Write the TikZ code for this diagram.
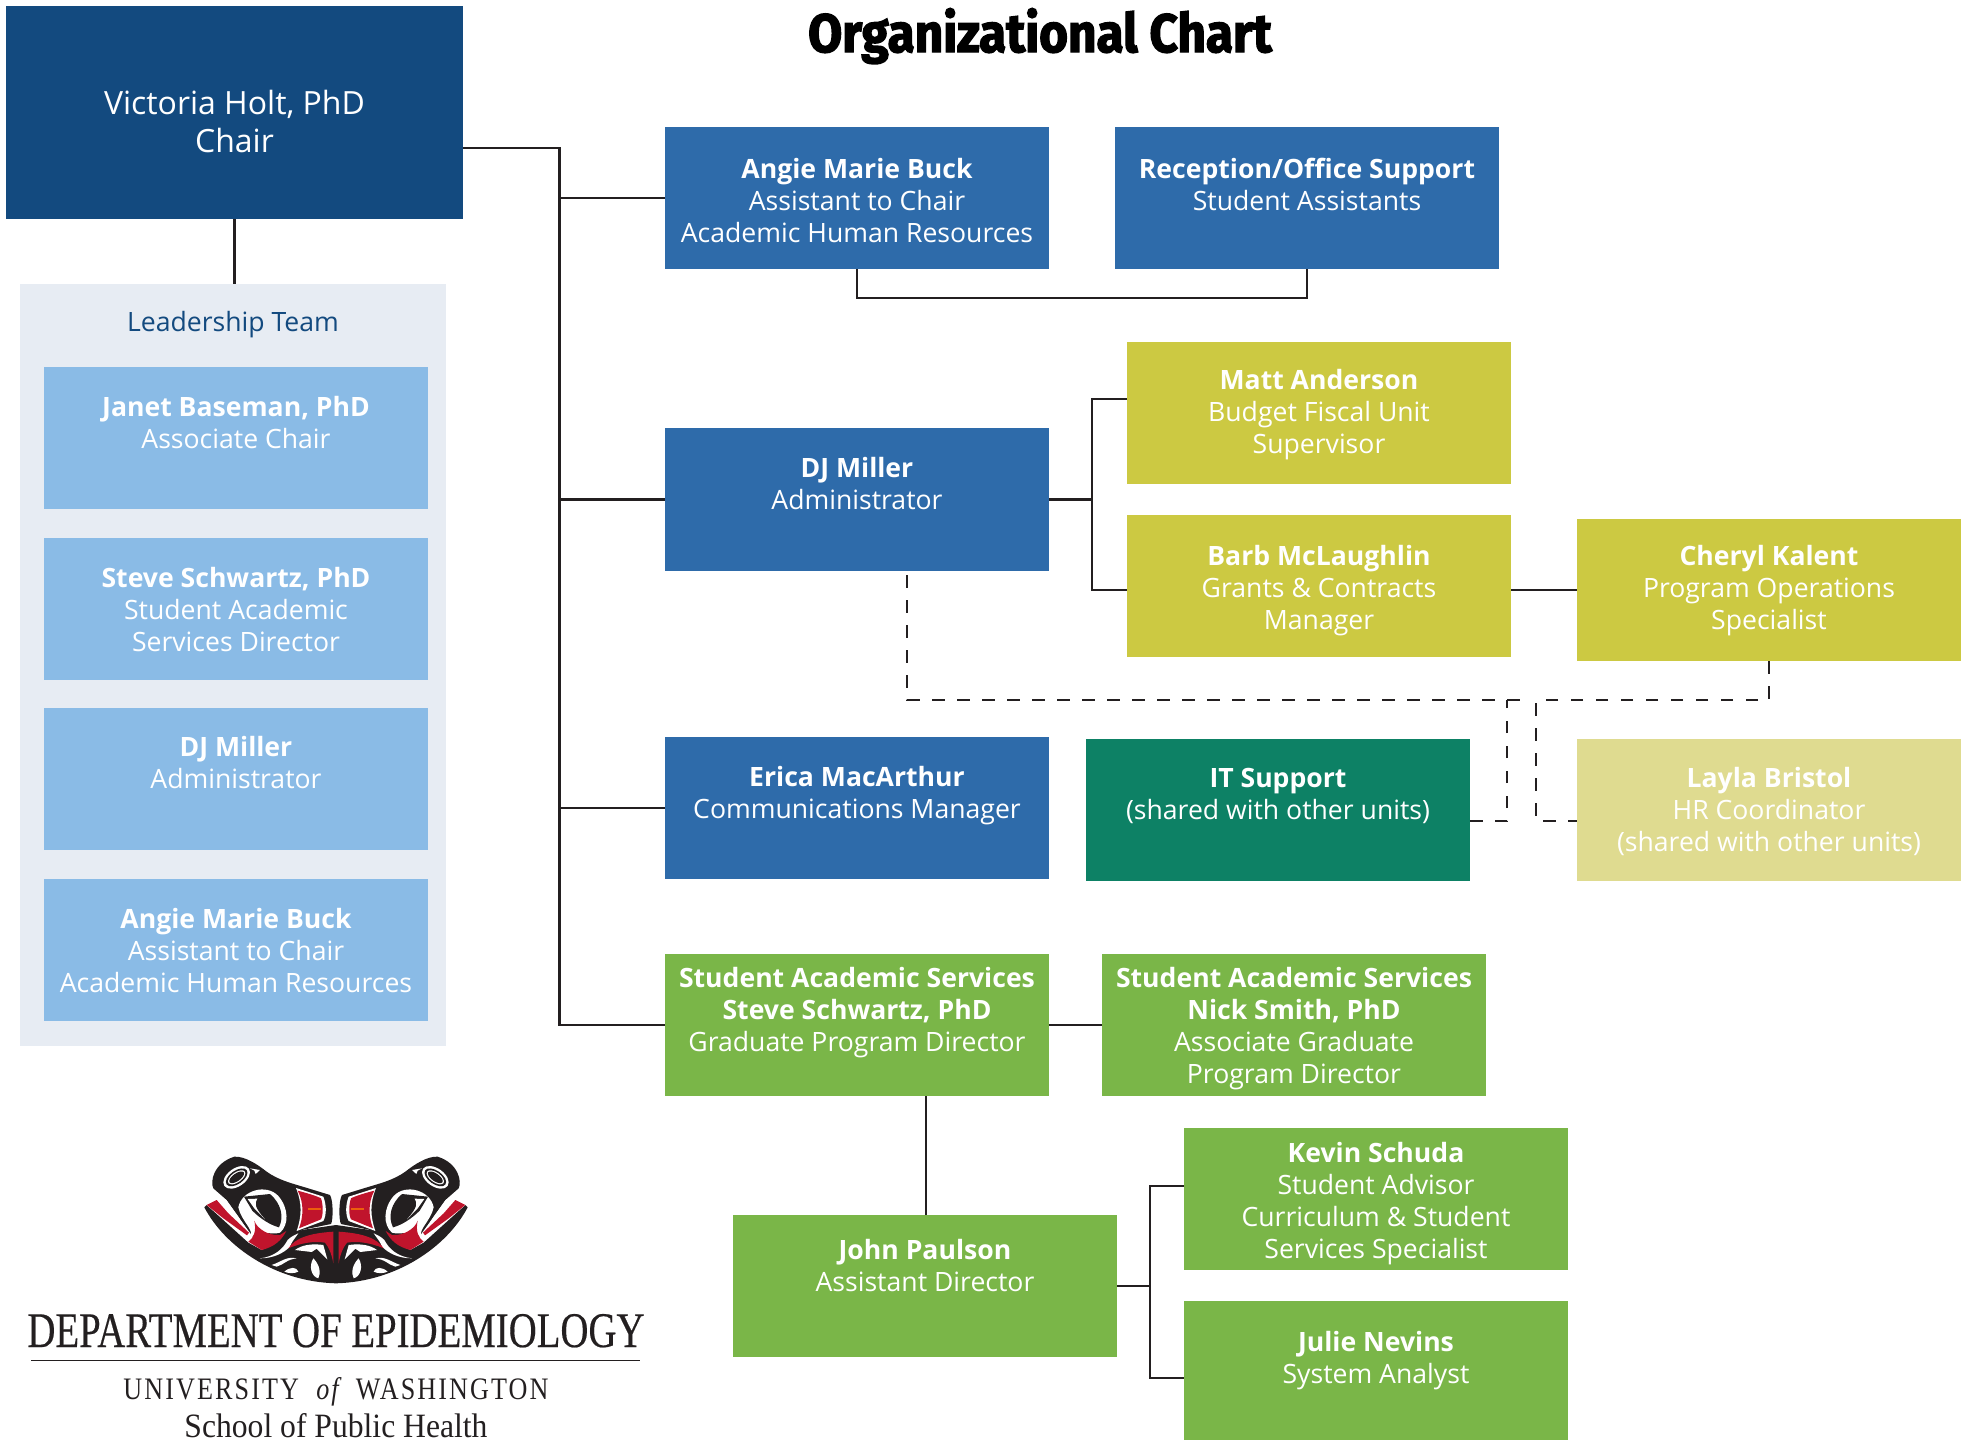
\documentclass[tikz,border=0pt]{standalone}
\usepackage{fontspec}
\setmainfont{Open Sans}
\newfontfamily\titlefont[FakeBold=2.6]{Fira Sans Bold}
\newfontfamily\logofont{Liberation Serif}
\newfontfamily\deptfont[FakeBold=0.4]{Liberation Serif}
\newfontfamily\uwfont[LetterSpace=8]{Liberation Serif}
\definecolor{navy}{HTML}{134A7F}
\definecolor{midblue}{HTML}{2E6BAA}
\definecolor{skyb}{HTML}{8ABBE6}
\definecolor{panelc}{HTML}{E7ECF3}
\definecolor{ochre}{HTML}{CCC942}
\definecolor{pale}{HTML}{DFDB90}
\definecolor{teal2}{HTML}{0D8165}
\definecolor{leaf}{HTML}{7AB648}
\definecolor{ink}{HTML}{231F20}
\definecolor{logored}{HTML}{C0142C}
\tikzset{
  boxnode/.style={inner sep=0pt,outer sep=0pt,text=white,anchor=center},
  link/.style={draw=ink,line width=2.8pt},
  dashlink/.style={draw=ink,line width=2.8pt,dash pattern=on 12.5pt off 12.5pt},
  wt/.style={fill=white,draw=none},
  bk/.style={fill=ink,draw=none},
  rd/.style={fill=logored,draw=none},
  plain/.style={inner sep=0pt,outer sep=0pt,anchor=base}
}
% name, colour, x0, y0, x1, y1, first baseline offset, text
\newcommand\bx[8]{%
  \pgfmathsetmacro\bw{#5-#3}\pgfmathsetmacro\bh{#6-#4}%
  \pgfmathsetmacro\bcx{(#3+#5)/2}\pgfmathsetmacro\bcy{(#4+#6)/2}%
  \node[boxnode,fill=#2] (#1) at (\bcx,\bcy) {\parbox[c][\bh pt][t]{\bw pt}{\centering\fontsize{26.6}{32}\selectfont\rule{0pt}{#7pt}#8}};%
}
\newcommand\halfbird{%
  % bowl
  \path[bk] (28,172) .. controls (90,290) and (240,395) .. (423,400) -- (423,225) -- (320,240) -- (270,270) -- (200,300) -- (160,278) -- (35,165) -- cycle;
  % head
  \path[bk] (118,20) .. controls (150,18) and (190,45) .. (215,65) .. controls (250,90) and (290,100) .. (330,112) -- (405,135) .. controls (415,150) and (415,210) .. (408,222) -- (320,240) .. controls (300,260) and (285,285) .. (250,300) -- (200,295) -- (170,255) -- (130,200) -- (95,150) -- (55,115) .. controls (45,95) and (55,40) .. (118,20) -- cycle;
  % white strip and left red
  \path[wt] (50,118) -- (95,152) -- (130,200) -- (170,262) -- (158,268) -- (35,165) -- (62,148) -- cycle;
  \path[rd] (35,165) -- (65,150) -- (100,190) -- (162,248) -- (156,256) -- (85,205) -- cycle;
  % notch
  \path[wt] (165,55) -- (195,60) -- (182,72) -- (178,62) -- cycle;
  % crown eye
  \path[wt,rotate around={35:(125,82)}] (125,82) ellipse (45 and 27);
  \path[bk,rotate around={35:(125,82)}] (125,82) ellipse (37 and 20);
  \path[wt,rotate around={35:(125,82)}] (125,82) ellipse (30 and 15);
  \path[bk,rotate around={35:(125,82)}] (125,82) ellipse (26 and 11.5);
  % eye socket
  \path[wt] (130,172) .. controls (140,120) and (215,100) .. (250,138) .. controls (282,175) and (282,225) .. (255,248) .. controls (235,255) and (190,240) .. (168,262) .. controls (175,235) and (140,215) .. (130,172) -- cycle;
  % lower red
  \path[rd] (178,212) .. controls (185,235) and (220,258) .. (255,255) -- (274,243) .. controls (260,270) and (240,290) .. (200,300) -- (160,275) .. controls (175,265) and (185,245) .. (178,212) -- cycle;
  % almond
  \path[bk] (147,140) -- (225,132) .. controls (258,160) and (268,200) .. (252,232) .. controls (225,225) and (195,205) .. (172,182) -- cycle;
  \path[wt] (158,147) -- (187,146) .. controls (178,160) and (178,172) .. (210,208) -- (178,175) -- cycle;
  % wing
  \path[wt] (303,114) -- (385,140) .. controls (395,165) and (395,195) .. (385,213) -- (305,243) .. controls (320,200) and (322,160) .. (303,114) -- cycle;
  \path[rd] (308,122) .. controls (340,130) and (370,140) .. (378,145) .. controls (385,165) and (385,195) .. (378,208) -- (312,235) .. controls (325,200) and (328,160) .. (308,122) -- cycle;
  \path[fill=orange!70!logored] (338,174) -- (378,174) -- (378,180) -- (338,180) -- cycle;
  % white rim and centre red
  \path[wt] (195,325) .. controls (240,320) and (265,295) .. (278,270) .. controls (290,258) and (300,255) .. (310,250) .. controls (300,265) and (290,275) .. (285,290) .. controls (265,310) and (235,325) .. (195,325) -- cycle;
  \path[rd] (280,295) .. controls (300,265) and (340,250) .. (415,245) -- (415,340) .. controls (410,310) and (400,290) .. (390,278) .. controls (355,272) and (315,280) .. (280,295) -- cycle;
  \path[wt] (300,300) .. controls (320,285) and (350,280) .. (385,285) -- (397,328) -- (365,296) -- (350,306) -- cycle;
  \path[wt] (355,325) .. controls (375,345) and (378,370) .. (370,385) .. controls (350,380) and (340,350) .. (355,325) -- cycle;
  \path[wt] (230,345) .. controls (260,335) and (275,318) .. (305,325) .. controls (275,328) and (265,345) .. (245,350) -- cycle;
  \path[wt] (268,365) .. controls (285,350) and (305,350) .. (310,365) .. controls (295,372) and (280,370) .. (268,365) -- cycle;
}
\begin{document}
\begin{tikzpicture}[x=1pt,y=-1pt]
\useasboundingbox (0,0) rectangle (1971,1440);
\node[plain] (title) at (1040,52) {\scalebox{0.915}[1]{\titlefont\fontsize{54}{60}\selectfont Organizational Chart}};
% panel
\node[boxnode,fill=panelc,minimum width=426pt,minimum height=762pt] (panel) at (233,665) {};
\node[plain,text=navy,font=\fontsize{26.6}{32}\selectfont] (ltitle) at (233,331) {Leadership Team};
\node[boxnode,fill=navy] (chair) at (234.5,112.5) {\parbox[c][213pt][t]{457pt}{\centering\fontsize{32}{38}\selectfont\rule{0pt}{108pt}Victoria Holt, PhD\\Chair}};
\bx{janet}{skyb}{44}{367}{428}{509}{49}{\textbf{Janet Baseman, PhD}\\Associate Chair}
\bx{steve}{skyb}{44}{538}{428}{680}{49}{\textbf{Steve Schwartz, PhD}\\Student Academic\\Services Director}
\bx{djb}{skyb}{44}{708}{428}{850}{48}{\textbf{DJ Miller}\\Administrator}
\bx{amb}{skyb}{44}{879}{428}{1021}{49}{\textbf{Angie Marie Buck}\\Assistant to Chair\\Academic Human Resources}
\bx{angie}{midblue}{665}{127}{1049}{269}{51}{\textbf{Angie Marie Buck}\\Assistant to Chair\\Academic Human Resources}
\bx{recep}{midblue}{1115}{127}{1499}{269}{51}{\textbf{Reception/Office Support}\\Student Assistants}
\bx{matt}{ochre}{1127}{342}{1511}{484}{47}{\textbf{Matt Anderson}\\Budget Fiscal Unit\\Supervisor}
\bx{dj}{midblue}{665}{428}{1049}{571}{49}{\textbf{DJ Miller}\\Administrator}
\bx{barb}{ochre}{1127}{515}{1511}{657}{50}{\textbf{Barb McLaughlin}\\Grants \& Contracts\\Manager}
\bx{cheryl}{ochre}{1577}{519}{1961}{661}{46}{\textbf{Cheryl Kalent}\\Program Operations\\Specialist}
\bx{erica}{midblue}{665}{737}{1049}{879}{49}{\textbf{Erica MacArthur}\\Communications Manager}
\bx{it}{teal2}{1086}{739}{1470}{881}{48}{\textbf{IT Support}\\(shared with other units)}
\bx{layla}{pale}{1577}{739}{1961}{881}{48}{\textbf{Layla Bristol}\\HR Coordinator\\(shared with other units)}
\bx{sas}{leaf}{665}{954}{1049}{1096}{33}{\textbf{Student Academic Services}\\\textbf{Steve Schwartz, PhD}\\Graduate Program Director}
\bx{nick}{leaf}{1102}{954}{1486}{1096}{33}{\textbf{Student Academic Services}\\\textbf{Nick Smith, PhD}\\Associate Graduate\\Program Director}
\bx{john}{leaf}{733}{1215}{1117}{1357}{44}{\textbf{John Paulson}\\Assistant Director}
\bx{kevin}{leaf}{1184}{1128}{1568}{1270}{34}{\textbf{Kevin Schuda}\\Student Advisor\\Curriculum \& Student\\Services Specialist}
\bx{julie}{leaf}{1184}{1301}{1568}{1440}{50}{\textbf{Julie Nevins}\\System Analyst}
% connectors
\coordinate (trunktop) at (559.5,148);
\draw[link] (chair.east |- trunktop) -- (trunktop) |- (sas.west);
\draw[link] (trunktop |- angie.west) -- (angie.west);
\draw[link] (trunktop |- dj.west) -- (dj.west);
\draw[link] (trunktop |- erica.west) -- (erica.west);
\draw[link] (chair.south) -- (chair.south |- panel.north);
\draw[link] (angie.south) -- ++(0,29) -| (recep.south);
\coordinate (djbus) at (1092,499.5);
\coordinate (mattin) at (1127,399);
\coordinate (barbin) at (1127,590);
\draw[link] (dj.east) -- (djbus);
\draw[link] (mattin) -| (djbus) |- (barbin);
\coordinate (barbout) at (1511,590);
\draw[link] (barbout) -- (cheryl.west |- barbout);
\draw[link] (sas.east |- 0,1025) -- (nick.west |- 0,1025);
\draw[link] (john.north -| 926,0) -- (sas.south -| 926,0);
\coordinate (johnbus) at (1150,1286);
\coordinate (kevinin) at (1184,1186);
\coordinate (juliein) at (1184,1378);
\draw[link] (john.east |- johnbus) -- (johnbus);
\draw[link] (kevinin) -| (johnbus) |- (juliein);
% dashed
\coordinate (djd) at (907,575);
\coordinate (dashr) at (1521,700);
\coordinate (itv) at (1507,700);
\coordinate (layv) at (1536,700);
\coordinate (low) at (1507,821);
\coordinate (low2) at (1536,821);
\draw[dashlink] (djd) |- (dashr);
\draw[dashlink] (it.east |- low) -- (low) -- (itv);
\draw[dashlink] (cheryl.south) |- (layv) -- (low2) -- (layla.west |- low2);
% logo
\begin{scope}[shift={(195,1150)},x=.3333pt,y=-.3333pt]\halfbird\end{scope}
\begin{scope}[shift={(477,1150)},xscale=-1,x=.3333pt,y=-.3333pt]\halfbird\end{scope}
\node[plain,text=ink] (dept) at (336,1347) {\resizebox{617pt}{33pt}{\deptfont DEPARTMENT OF EPIDEMIOLOGY}};
\draw[draw=ink,line width=1.2pt] (31,1360.5) -- (640,1360.5);
\node[plain,text=ink] (uw) at (336,1399) {\resizebox{425pt}{22pt}{\uwfont UNIVERSITY {\itshape\ of\ } WASHINGTON}};
\node[plain,text=ink] (sph) at (336,1437) {\resizebox{303pt}{24pt}{\logofont School of Public Health}};
\end{tikzpicture}
\end{document}
